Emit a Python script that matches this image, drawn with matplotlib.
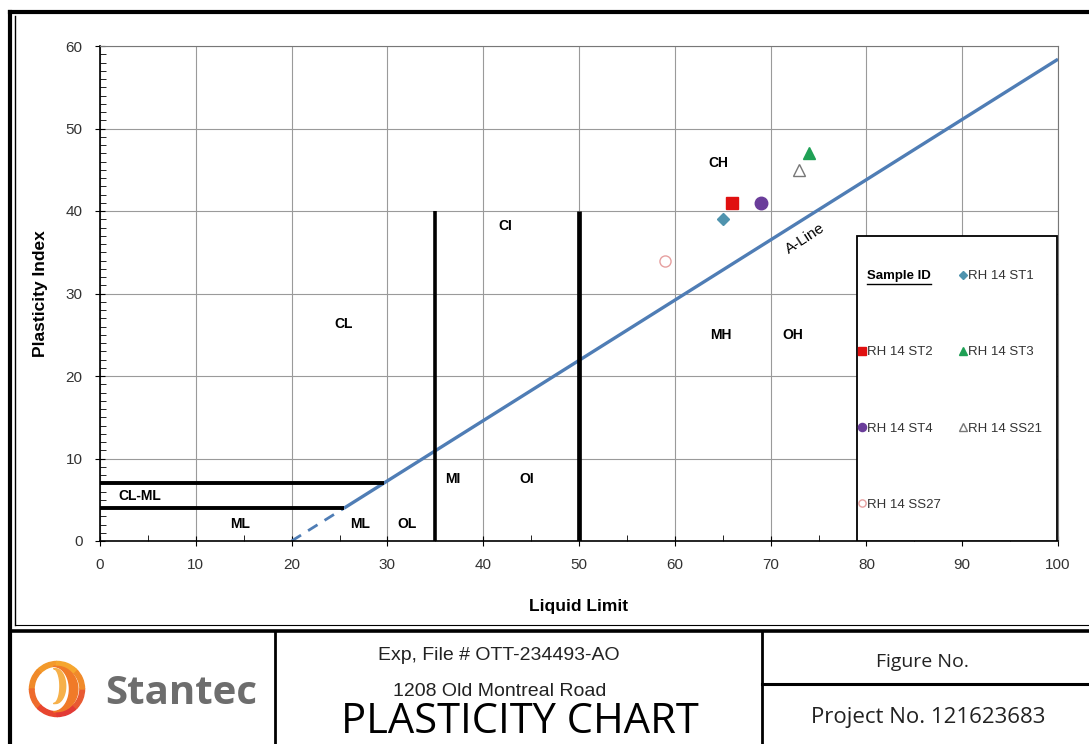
import matplotlib
matplotlib.use("Agg")
import numpy as np
import matplotlib.pyplot as plt
from matplotlib.lines import Line2D
from matplotlib.patches import Wedge, Polygon, Rectangle
from matplotlib.ticker import MultipleLocator

plt.rcParams["font.family"] = ["Liberation Sans", "DejaVu Sans"]

# --- sample data (Liquid Limit, Plasticity Index) ---
sample_ids = ["RH 14 ST1", "RH 14 ST2", "RH 14 ST3", "RH 14 ST4", "RH 14 SS21", "RH 14 SS27"]
liquid_limit = [65, 66, 74, 69, 73, 59]
plasticity_index = [39, 41, 47, 41, 45, 34]

# --- A-line (solid part and dashed part) ---
aline_ll = [25.5, 100]
aline_pi = [4, 58.4]
aline_dash_ll = [20, 25.5]
aline_dash_pi = [0, 4]

# --- black boundary lines ---
bound_ll = [[0, 29.6], [0, 25.5], [35, 35], [50, 50]]
bound_pi = [[7, 7], [4, 4], [0, 40], [0, 40]]

# --- zone labels ---
zone_names = ["CL", "CI", "CH", "MH", "OH", "MI", "OI", "ML", "ML", "OL", "CL-ML"]
zone_ll = [25.4, 42.3, 64.5, 64.8, 72.3, 36.8, 44.5, 14.6, 27.1, 32.0, 4.2]
zone_pi = [26.3, 38.2, 45.8, 25.0, 25.0, 7.5, 7.5, 2.0, 2.0, 2.0, 5.5]

fig = plt.figure(figsize=(10.89, 7.44), dpi=100)
W, H = 1089, 744


def fx(px):
    return px / W


def fy(py):
    return 1 - py / H


ax = fig.add_axes([fx(100), fy(541), fx(1058) - fx(100), fy(46) - fy(541)])
ax.set_xlim(0, 100)
ax.set_ylim(0, 60)
ax.xaxis.set_major_locator(MultipleLocator(10))
ax.xaxis.set_minor_locator(MultipleLocator(5))
ax.yaxis.set_major_locator(MultipleLocator(10))
ax.yaxis.set_minor_locator(MultipleLocator(1))
ax.grid(True, which="major", color="#9a9a9a", linewidth=0.8)
ax.set_axisbelow(True)
ax.tick_params(which="major", direction="inout", length=7, labelsize=11, labelcolor="#333333", pad=9)
ax.tick_params(which="minor", direction="in", length=4)
for s in ["top", "right"]:
    ax.spines[s].set_color("#777777")
ax.spines["left"].set_linewidth(1.2)
ax.spines["bottom"].set_linewidth(1.2)
ax.set_xlabel("Liquid Limit", fontsize=12.5, fontweight="bold", labelpad=19)
ax.set_ylabel("Plasticity Index", fontsize=12.5, fontweight="bold", labelpad=13)

# A-line
aline_color = "#4F7DB5"
ax.plot(aline_ll, aline_pi, color=aline_color, linewidth=2.4, solid_capstyle="butt")
ax.plot(aline_dash_ll, aline_dash_pi, color=aline_color, linewidth=2.0, linestyle=(0, (4, 3)))
ax.text(73.6, 36.6, "A-Line", rotation=33, fontsize=11, ha="center", va="center")

# boundaries
widths = [2.8, 2.8, 2.6, 3.4]
for xs, ys, lw in zip(bound_ll, bound_pi, widths):
    ax.plot(xs, ys, color="black", linewidth=lw, solid_capstyle="butt")

for name, x, y in zip(zone_names, zone_ll, zone_pi):
    ax.text(x, y, name, fontsize=10, fontweight="bold", ha="center", va="center")

# sample points
styles = [
    dict(marker="D", color="#4F93AE", markersize=6, mec="#4F93AE"),
    dict(marker="s", color="#E01010", markersize=9, mec="#E01010"),
    dict(marker="^", color="#1FA055", markersize=8, mec="#1FA055"),
    dict(marker="o", color="#6A3D9A", markersize=9, mec="#6A3D9A"),
    dict(marker="^", color="none", markersize=8, mec="#777777"),
    dict(marker="o", color="none", markersize=8, mec="#E6A0A0"),
]
handles = []
for name, x, y, st in zip(sample_ids, liquid_limit, plasticity_index, styles):
    h, = ax.plot([x], [y], linestyle="none", marker=st["marker"], markersize=st["markersize"],
                 markerfacecolor=st["color"], markeredgecolor=st["mec"], markeredgewidth=1.0,
                 label=name, zorder=5)
    handles.append(h)

# legend box
ax.add_patch(Rectangle((0.790, 0.0), 0.209, 0.616, transform=ax.transAxes, facecolor="white",
                       edgecolor="black", linewidth=1.3, zorder=6))

# legend laid out row-wise: header, ST1 / ST2, ST3 / ST4, SS21 / SS27
header = Line2D([], [], linestyle="none")
blank = Line2D([], [], linestyle="none")
col1 = [header, handles[1], handles[3], handles[5]]
col2 = [handles[0], handles[2], handles[4], blank]
lab1 = ["Sample ID", sample_ids[1], sample_ids[3], sample_ids[5]]
lab2 = [sample_ids[0], sample_ids[2], sample_ids[4], ""]
leg = ax.legend(col1 + col2, lab1 + lab2, ncol=2, loc="upper left",
                bbox_to_anchor=(0.7915, 0.5475), borderaxespad=0, borderpad=0,
                fontsize=9.5, markerscale=0.65, handlelength=0.5, handletextpad=0.15,
                labelspacing=4.85, columnspacing=1.45, frameon=False)
leg.set_zorder(7)
for t in leg.get_texts():
    t.set_color("#333333")
leg.get_texts()[0].set_color("black")
leg.get_texts()[0].set_fontweight("bold")

# outer frame
frame_lines = [
    ([fx(10), fx(1089)], [fy(12), fy(12)], 3.0),
    ([fx(10), fx(10)], [fy(12), fy(744)], 3.0),
    ([fx(14.5), fx(14.5)], [fy(16), fy(625)], 1.0),
    ([fx(14.5), fx(1089)], [fy(625), fy(625)], 0.8),
    ([fx(10), fx(1089)], [fy(631), fy(631)], 2.6),
    ([fx(275), fx(275)], [fy(631), fy(744)], 2.0),
    ([fx(762), fx(762)], [fy(631), fy(744)], 2.0),
    ([fx(762), fx(1089)], [fy(684), fy(684)], 2.2),
]
for xs, ys, lw in frame_lines:
    fig.add_artist(Line2D(xs, ys, color="black", linewidth=lw, transform=fig.transFigure))

# title block texts
fig.text(fx(499), fy(656), "Exp, File # OTT-234493-AO", fontsize=14, ha="center", va="center",
         color="#222222")
fig.text(fx(500), fy(692), "1208 Old Montreal Road", fontsize=14, ha="center", va="center",
         color="#222222")
fig.text(fx(520), fy(743), "PLASTICITY CHART", fontsize=30, ha="center", va="bottom",
         family=["Open Sans", "DejaVu Sans"])
fig.text(fx(922), fy(662), "Figure No.", fontsize=14, ha="center", va="center",
         family=["Open Sans", "DejaVu Sans"], color="#222222")
fig.text(fx(928), fy(718), "Project No. 121623683", fontsize=16, ha="center", va="center",
         family=["Open Sans", "DejaVu Sans"], color="#222222")
fig.text(fx(181), fy(693), "Stantec", fontsize=29, ha="center", va="center", color="#6d6d6d",
         fontweight="bold", family=["Open Sans", "DejaVu Sans"])

# logo approximation
lax = fig.add_axes([fx(28), fy(718), fx(86) - fx(28), fy(660) - fy(718)])
lax.set_xlim(-1, 1)
lax.set_ylim(-1, 1)
lax.set_aspect("equal")
lax.axis("off")
ring_cols = ["#F39A2B", "#F08A2A", "#EE6B2C", "#E8452F", "#E23A35", "#E85A32", "#F08A2A", "#F5A62E"]
for i, c in enumerate(ring_cols):
    a0 = 90 + i * 45
    lax.add_patch(Wedge((0, 0), 0.95, a0, a0 + 46, width=0.16, color=c))
t = np.linspace(np.pi / 2, -np.pi / 2, 40)
outer = np.column_stack([0.72 * np.cos(t) + 0.0, 0.78 * np.sin(t)])
inner = np.column_stack([0.55 * np.cos(t[::-1]) - 0.12, 0.78 * np.sin(t[::-1])])
lax.add_patch(Polygon(np.vstack([outer, inner]), closed=True, color="#F07A28"))
inner2 = np.column_stack([0.35 * np.cos(t) - 0.05, 0.6 * np.sin(t) + 0.1])
inner3 = np.column_stack([0.22 * np.cos(t[::-1]) - 0.12, 0.6 * np.sin(t[::-1]) + 0.1])
lax.add_patch(Polygon(np.vstack([inner2, inner3]), closed=True, color="#F6B04A"))

# underline for legend header
fig.canvas.draw()
bb = leg.get_texts()[0].get_window_extent().transformed(fig.transFigure.inverted())
fig.add_artist(Line2D([bb.x0, bb.x1], [bb.y0 - 0.002, bb.y0 - 0.002], color="black",
                      linewidth=1.0, transform=fig.transFigure, zorder=10))

fig.savefig("out.png", dpi=100)
